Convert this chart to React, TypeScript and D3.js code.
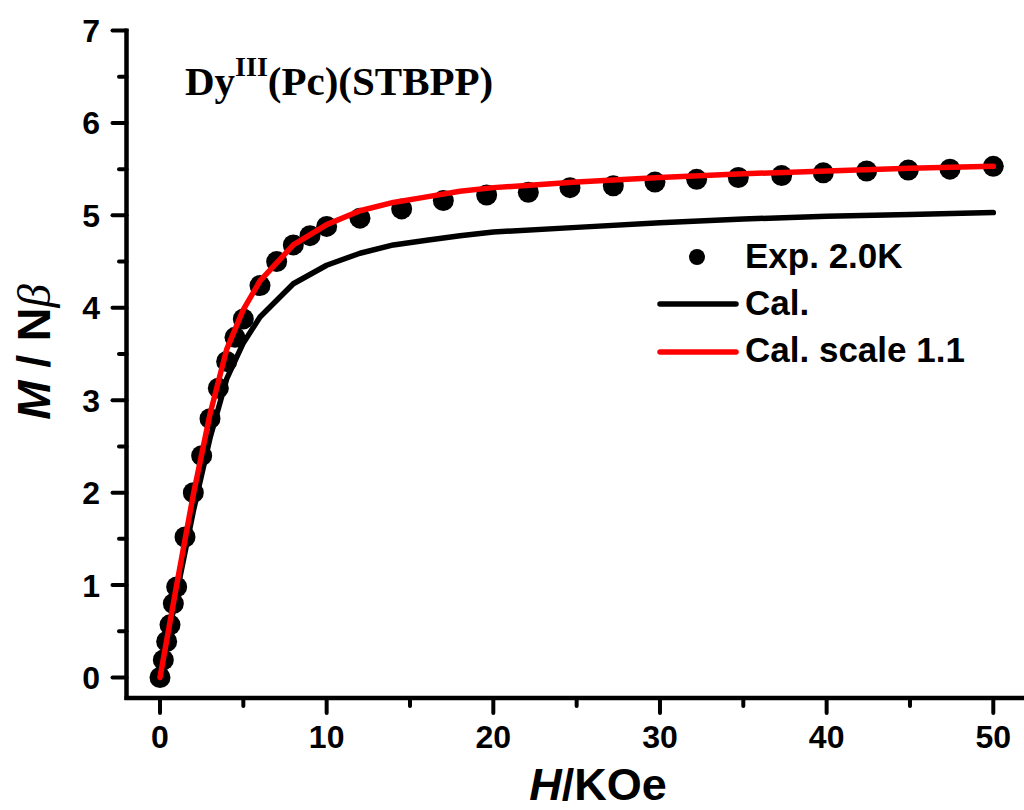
import React from "react";
import * as d3 from "d3";

// Experimental magnetisation at 2.0 K
const expField = [0, 0.2, 0.4, 0.6, 0.8, 1.0, 1.5, 2.0, 2.5, 3.0, 3.5, 4.0, 4.5, 5.0, 6.0, 7.0, 8.0, 9.0, 10.0, 12.0, 14.5, 17.0, 19.6, 22.1, 24.6, 27.2, 29.7, 32.2, 34.7, 37.3, 39.8, 42.4, 44.9, 47.4, 50.0];
const expM = [0, 0.19, 0.39, 0.57, 0.8, 0.98, 1.52, 2.0, 2.4, 2.8, 3.13, 3.42, 3.68, 3.88, 4.24, 4.5, 4.68, 4.78, 4.88, 4.97, 5.07, 5.16, 5.22, 5.25, 5.3, 5.32, 5.36, 5.39, 5.41, 5.43, 5.46, 5.48, 5.49, 5.5, 5.53];

// Calculated curves
const calField = [0, 1, 2, 3, 4, 5, 6, 8, 10, 12, 14, 16, 18, 20, 25, 30, 35, 40, 45, 50];
const calM = [0, 0.91, 1.8, 2.59, 3.23, 3.62, 3.9, 4.26, 4.46, 4.59, 4.68, 4.73, 4.78, 4.82, 4.87, 4.92, 4.96, 4.99, 5.01, 5.03];
const calScaledM = [0, 1.0, 1.98, 2.85, 3.55, 3.98, 4.29, 4.68, 4.9, 5.05, 5.14, 5.2, 5.26, 5.3, 5.36, 5.41, 5.45, 5.48, 5.51, 5.53];

const xMajor = [0, 10, 20, 30, 40, 50];
const xMinor = [5, 15, 25, 35, 45];
const yMajor = [0, 1, 2, 3, 4, 5, 6, 7];
const yMinor = [0.5, 1.5, 2.5, 3.5, 4.5, 5.5, 6.5];

const legendItems = ["Exp. 2.0K", "Cal.", "Cal. scale 1.1"];

const W = 1024;
const H = 810;
const sans = "'Liberation Sans', Arial, sans-serif";
const serif = "'Liberation Serif', 'Times New Roman', serif";

export default function App() {
  const x = d3.scaleLinear().domain([0, 50]).range([160, 993.3]);
  const y = d3.scaleLinear().domain([0, 7]).range([677.5, 30.5]);

  const axisLeft = 126.5;
  const axisBottom = 698;

  const line = d3
    .line<[number, number]>()
    .x((d) => x(d[0]))
    .y((d) => y(d[1]));

  const calPath = line(calField.map((f, i) => [f, calM[i]]) as [number, number][]) || "";
  const calScaledPath = line(calField.map((f, i) => [f, calScaledM[i]]) as [number, number][]) || "";

  return (
    <div style={{ position: "absolute", left: 0, top: 0 }}>
      <svg width={W} height={H} style={{ display: "block", background: "#fff" }}>
        {/* axes */}
        <line x1={axisLeft} y1={y(7) - 2} x2={axisLeft} y2={axisBottom + 2} stroke="#000" strokeWidth={4.5} />
        <line x1={axisLeft - 2} y1={axisBottom} x2={1024} y2={axisBottom} stroke="#000" strokeWidth={4.5} />

        {yMajor.map((v) => (
          <g key={"ym" + v}>
            <line x1={axisLeft - 14} x2={axisLeft} y1={y(v)} y2={y(v)} stroke="#000" strokeWidth={4} strokeLinecap="round" />
            <text x={100} y={y(v) + 11.5} textAnchor="end" fontFamily={sans} fontWeight="bold" fontSize={32}>
              {v}
            </text>
          </g>
        ))}
        {yMinor.map((v) => (
          <line key={"yn" + v} x1={axisLeft - 7.5} x2={axisLeft} y1={y(v)} y2={y(v)} stroke="#000" strokeWidth={4} strokeLinecap="round" />
        ))}
        {xMajor.map((v) => (
          <g key={"xm" + v}>
            <line x1={x(v)} x2={x(v)} y1={axisBottom} y2={axisBottom + 15} stroke="#000" strokeWidth={4} strokeLinecap="round" />
            <text x={x(v)} y={748} textAnchor="middle" fontFamily={sans} fontWeight="bold" fontSize={32}>
              {v}
            </text>
          </g>
        ))}
        {xMinor.map((v) => (
          <line key={"xn" + v} x1={x(v)} x2={x(v)} y1={axisBottom} y2={axisBottom + 8} stroke="#000" strokeWidth={4} strokeLinecap="round" />
        ))}

        {/* axis titles */}
        <text x={598} y={800} textAnchor="middle" fontFamily={sans} fontWeight="bold" fontSize={45}>
          <tspan fontStyle="italic">H</tspan>
          <tspan>/KOe</tspan>
        </text>
        <text transform="translate(50,352) rotate(-90)" textAnchor="middle" fontFamily={sans} fontWeight="bold" fontSize={47}>
          <tspan fontStyle="italic">M</tspan>
          <tspan> / N</tspan>
          <tspan fontFamily={serif} fontStyle="italic" fontWeight="normal">β</tspan>
        </text>

        {/* compound label */}
        <text x={185} y={95} fontFamily={serif} fontWeight="bold" fontSize={41}>
          <tspan>Dy</tspan>
          <tspan fontSize={28} dy={-19}>III</tspan>
          <tspan dy={19}>(Pc)(STBPP)</tspan>
        </text>

        {/* experimental points */}
        {expField.map((f, i) => (
          <circle key={"p" + i} cx={x(f)} cy={y(expM[i])} r={10.5} fill="#000" />
        ))}

        {/* calculated curves */}
        <path d={calPath} fill="none" stroke="#000" strokeWidth={5.5} strokeLinejoin="round" strokeLinecap="round" />
        <path d={calScaledPath} fill="none" stroke="#ff0000" strokeWidth={5.5} strokeLinejoin="round" strokeLinecap="round" />

        {/* legend */}
        <circle cx={697} cy={257} r={8} fill="#000" />
        <line x1={660} x2={736} y1={304} y2={304} stroke="#000" strokeWidth={5.5} strokeLinecap="round" />
        <line x1={660} x2={736} y1={352} y2={352} stroke="#ff0000" strokeWidth={5.5} strokeLinecap="round" />
        {legendItems.map((t, i) => (
          <text key={t} x={745} y={268 + i * 47} fontFamily={sans} fontWeight="bold" fontSize={35}>
            {t}
          </text>
        ))}
      </svg>
    </div>
  );
}
